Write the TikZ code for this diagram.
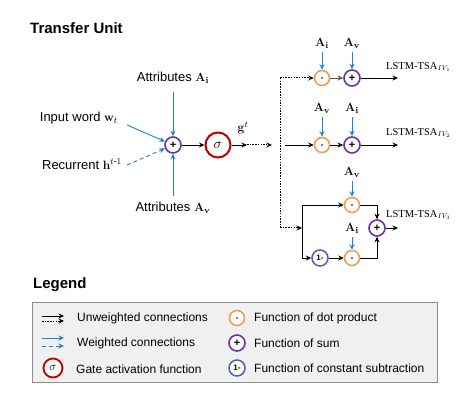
\documentclass[tikz,border=0pt]{standalone}
\usepackage{amsmath}
\usepackage{bm}
\usepackage[no-math]{fontspec}
\setmainfont{Liberation Sans}
\newfontfamily\serfont{Liberation Serif}
\usetikzlibrary{arrows.meta}
\definecolor{cpurple}{HTML}{7030A0}
\definecolor{cred}{HTML}{C00000}
\definecolor{corange}{HTML}{F0994A}
\definecolor{cblue}{HTML}{4A62B8}
\definecolor{carrow}{HTML}{1E82D2}
\newcommand{\dotsym}{\tikz\fill (0,0) circle (0.9pt);}
\tikzset{
  sumnode/.style={circle,draw=cpurple,line width=1.6pt,minimum size=16pt,inner sep=0pt,fill=white,font=\bfseries\fontsize{11}{11}\selectfont},
  dotnode/.style={circle,draw=corange,line width=1.5pt,minimum size=15pt,inner sep=0pt,fill=white},
  signode/.style={circle,draw=cred,line width=2pt,minimum size=25pt,inner sep=0pt,fill=white,font=\fontsize{14}{14}\selectfont},
  subnode/.style={circle,draw=cblue,line width=1.5pt,minimum size=16pt,inner sep=0pt,fill=white,font=\bfseries\fontsize{8}{8}\selectfont},
  lab/.style={font=\fontsize{13}{15}\selectfont,inner sep=0pt},
  alab/.style={font=\fontsize{13}{15}\selectfont,inner sep=0pt},
  outlab/.style={font=\serfont\fontsize{10.5}{12}\selectfont,inner sep=0pt,anchor=west},
  leg/.style={font=\fontsize{12}{14}\selectfont,inner sep=0pt,anchor=west},
  ttl/.style={font=\bfseries\fontsize{15}{17}\selectfont,inner sep=0pt,anchor=west},
  blk/.style={-{Stealth[length=5.5pt,width=5pt]},line width=0.9pt,black},
  gry/.style={-{Stealth[length=5.5pt,width=5pt]},line width=0.9pt,black!65},
  dotarr/.style={-{Stealth[length=5.5pt,width=5pt]},line width=1pt,black,dash pattern=on 1.5pt off 1.2pt},
  dotline/.style={line width=1pt,black,dash pattern=on 1.5pt off 1.2pt},
  bluearr/.style={-{Stealth[length=5.5pt,width=5pt]},line width=0.9pt,carrow},
  bluedash/.style={-{Stealth[length=5.5pt,width=5pt]},line width=0.9pt,carrow,dash pattern=on 4pt off 3pt},
}
\begin{document}
\begin{tikzpicture}[x=1pt,y=-1pt]
\useasboundingbox (0,0) rectangle (466,406);
% title
\node[ttl] (title) at (30,28) {Transfer Unit};
% transfer unit core
\node[sumnode] (s0) at (173,145) {+};
\node[signode] (sig) at (218,145) {$\sigma$};
\node[lab] (ai) at (173,78) {Attributes $\mathbf{A}_{\mathbf{i}}$};
\node[lab] (av) at (173,208) {Attributes $\mathbf{A}_{\mathbf{v}}$};
\node[lab,anchor=east] (iw) at (118,118) {Input word $\mathbf{w}_t$};
\node[lab,anchor=east] (rc) at (122,164) {Recurrent $\mathbf{h}^{t\text{-}1}$};
\coordinate (aiS) at (173,92);
\coordinate (avN) at (173,196);
\coordinate (iwE) at (127,125);
\coordinate (rcE) at (127,165);
\draw[bluearr] (aiS) -- (s0);
\draw[bluearr] (avN) -- (s0);
\draw[bluearr] (iwE) -- (s0);
\draw[bluedash] (rcE) -- (s0);
\draw[blk] (s0) -- (sig);
\coordinate (c1) at (247,145);
\coordinate (c2) at (272,145);
\draw[blk] (sig) -- (c1);
\draw[dotarr] (c1) -- (c2);
\node[alab] (g) at (243,128) {$\mathbf{g}^t$};
% vertical dotted bus
\coordinate (bt) at (280,78);
\coordinate (bb) at (280,228);
\draw[dotline] (bt) -- (bb);
% row 1
\node[dotnode] (d1) at (322,78) {\dotsym};
\node[sumnode] (p1) at (352,78) {+};
\coordinate (o1) at (398,78);
\draw[dotarr] (bt) -- (d1);
\draw[gry] (d1) -- (p1);
\draw[blk] (p1) -- (o1);
\node[alab] (l1a) at (322,43) {$\mathbf{A}_{\mathbf{i}}$};
\node[alab] (l1b) at (352,43) {$\mathbf{A}_{\mathbf{v}}$};
\coordinate (l1aS) at (322,52);
\coordinate (l1bS) at (352,52);
\draw[bluearr] (l1aS) -- (d1);
\draw[bluearr] (l1bS) -- (p1);
\node[outlab] (t1) at (386,67) {LSTM-TSA$_{IV_1}$};
% row 2
\coordinate (r2s) at (285,145);
\node[dotnode] (d2) at (322,145) {\dotsym};
\node[sumnode] (p2) at (352,145) {+};
\coordinate (o2) at (398,145);
\draw[blk] (r2s) -- (d2);
\draw[blk] (d2) -- (p2);
\draw[blk] (p2) -- (o2);
\node[alab] (l2a) at (322,108) {$\mathbf{A}_{\mathbf{v}}$};
\node[alab] (l2b) at (352,108) {$\mathbf{A}_{\mathbf{i}}$};
\coordinate (l2aS) at (322,117);
\coordinate (l2bS) at (352,117);
\draw[bluearr] (l2aS) -- (d2);
\draw[bluearr] (l2bS) -- (p2);
\node[outlab] (t2) at (386,133) {LSTM-TSA$_{IV_2}$};
% row 3
\coordinate (sp) at (302,228);
\coordinate (spT) at (302,205);
\coordinate (spB) at (302,258);
\draw[dotarr] (bb) -- (sp);
\draw[line width=0.9pt] (spT) -- (spB);
\node[dotnode] (d3) at (352,205) {\dotsym};
\node[subnode] (m1) at (320,258) {1-};
\node[dotnode] (d4) at (352,258) {\dotsym};
\node[sumnode] (p3) at (377,228) {+};
\coordinate (o3) at (398,228);
\draw[blk] (spT) -- (d3);
\draw[blk] (spB) -- (m1);
\draw[blk] (m1) -- (d4);
\draw[blk] (d3) -| (p3);
\draw[blk] (d4) -| (p3);
\draw[blk] (p3) -- (o3);
\node[alab] (l3a) at (352,172) {$\mathbf{A}_{\mathbf{v}}$};
\node[alab] (l3b) at (352,228) {$\mathbf{A}_{\mathbf{i}}$};
\coordinate (l3aS) at (352,181);
\coordinate (l3bS) at (352,237);
\draw[bluearr] (l3aS) -- (d3);
\draw[bluearr] (l3bS) -- (d4);
\node[outlab] (t3) at (386,215) {LSTM-TSA$_{IV_3}$};
% legend
\node[ttl] (lt) at (33,285) {Legend};
\draw[draw=black!45,fill=black!6,line width=0.9pt] (32,302) rectangle (437,382);
\coordinate (u1a) at (42,316);
\coordinate (u1b) at (64,316);
\coordinate (u2a) at (42,321);
\coordinate (u2b) at (64,321);
\draw[blk] (u1a) -- (u1b);
\draw[dotarr] (u2a) -- (u2b);
\node[leg] (lu) at (77,318) {Unweighted connections};
\coordinate (w1a) at (42,338);
\coordinate (w1b) at (64,338);
\coordinate (w2a) at (42,346);
\coordinate (w2b) at (64,346);
\draw[bluearr] (w1a) -- (w1b);
\draw[bluedash] (w2a) -- (w2b);
\node[leg] (lw) at (77,343) {Weighted connections};
\node[signode,minimum size=19pt,line width=1.8pt,font=\fontsize{12}{12}\selectfont] (ls) at (53,368) {$\sigma$};
\node[leg] (lg) at (76,369) {Gate activation function};
\node[dotnode] (ld) at (237,318) {\dotsym};
\node[leg] (ldt) at (254,318) {Function of dot product};
\node[sumnode] (lp) at (237,343) {+};
\node[leg] (lpt) at (254,343) {Function of sum};
\node[subnode] (lm) at (237,368) {1-};
\node[leg] (lmt) at (254,368) {Function of constant subtraction};
\end{tikzpicture}
\end{document}
